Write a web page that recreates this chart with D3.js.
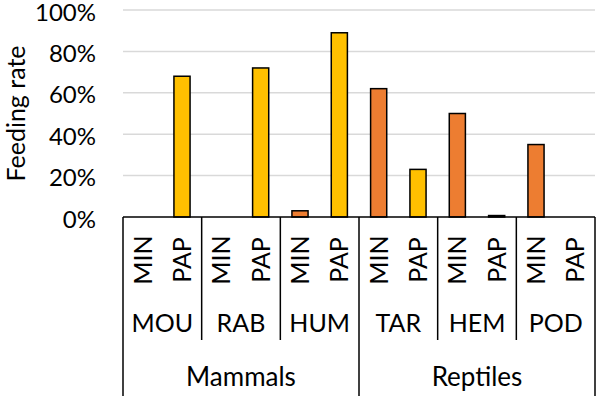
<!DOCTYPE html>
<html><head><meta charset="utf-8">
<script src="https://cdn.jsdelivr.net/npm/d3@7"></script>
<style>body{margin:0;background:#fff}svg{display:block}text{font-family:Lato,"Open Sans",sans-serif;fill:#000}</style>
</head><body>
<svg id="c" width="598" height="396"></svg>
<script>
const groups = ["Mammals", "Reptiles"];
const species = ["MOU", "RAB", "HUM", "TAR", "HEM", "POD"];
const speciesGroup = ["Mammals", "Mammals", "Mammals", "Reptiles", "Reptiles", "Reptiles"];
const treatments = ["MIN", "PAP"];
const minValues = [0, 0, 0.03, 0.62, 0.50, 0.35];
const papValues = [0.68, 0.72, 0.89, 0.23, 0.007, 0];
const yTicks = [0, 0.2, 0.4, 0.6, 0.8, 1.0];
const colors = {MIN: "#ED7D31", PAP: "#FFC000"};

const svg = d3.select("#c");
const pLeft = 123, pRight = 595, pTop = 10, pBase = 217, H = 396;

const keys = [];
species.forEach((s, i) => treatments.forEach(t => keys.push({s, t, i, v: t === "MIN" ? minValues[i] : papValues[i]})));

const x = d3.scaleBand().domain(keys.map(d => d.s + "-" + d.t)).range([pLeft, pRight]).paddingInner(0.59).paddingOuter(0.295);
const xc = d3.scaleBand().domain(keys.map(d => d.s + "-" + d.t)).range([pLeft, pRight]);
const xs = d3.scaleBand().domain(species).range([pLeft, pRight]);
const xg = d3.scaleBand().domain(groups).range([pLeft, pRight]);
const y = d3.scaleLinear().domain([0, 1]).range([pBase, pTop]);

// gridlines
svg.append("g").selectAll("line").data(yTicks.slice(1)).join("line")
  .attr("x1", pLeft).attr("x2", pRight).attr("y1", d => y(d)).attr("y2", d => y(d))
  .attr("stroke", "#d9d9d9").attr("stroke-width", 1.5);

// y tick labels
svg.append("g").selectAll("text").data(yTicks).join("text")
  .attr("x", 96).attr("y", d => y(d) + 1).attr("text-anchor", "end").attr("dominant-baseline", "central")
  .style("font-size", "24px").text(d => d3.format(".0%")(d));

svg.append("text").attr("transform", `translate(25,${(pTop + pBase) / 2}) rotate(-90)`)
  .attr("text-anchor", "middle").style("font-size", "25px").text("Feeding rate");

// bars
svg.append("g").selectAll("rect").data(keys.filter(d => d.v > 0)).join("rect")
  .attr("x", d => x(d.s + "-" + d.t)).attr("width", x.bandwidth())
  .attr("y", d => y(d.v)).attr("height", d => y(0) - y(d.v))
  .attr("fill", d => colors[d.t]).attr("stroke", "#000").attr("stroke-width", 1.5);

// axis lines
const ax = svg.append("g").attr("stroke", "#000").attr("stroke-width", 1.5);
ax.append("line").attr("x1", pLeft).attr("x2", pRight).attr("y1", pBase).attr("y2", pBase);
const gb = [pLeft, ...groups.map(g => xg(g) + xg.bandwidth())];
ax.selectAll(".gl").data(gb).join("line").attr("class", "gl")
  .attr("x1", d => d).attr("x2", d => d).attr("y1", pBase).attr("y2", H);
const sb = species.map(s => xs(s) + xs.bandwidth()).filter(v => !gb.some(g => Math.abs(g - v) < 1));
ax.selectAll(".sl").data(sb).join("line").attr("class", "sl")
  .attr("x1", d => d).attr("x2", d => d).attr("y1", pBase).attr("y2", 340);

// treatment labels
svg.append("g").selectAll("text").data(keys).join("text")
  .attr("transform", d => `translate(${xc(d.s + "-" + d.t) + xc.bandwidth() / 2 + 9},260) rotate(-90)`)
  .attr("text-anchor", "middle").style("font-size", "25px").text(d => d.t);

// species labels
svg.append("g").selectAll("text").data(species).join("text")
  .attr("x", d => xs(d) + xs.bandwidth() / 2).attr("y", 332).attr("text-anchor", "middle")
  .style("font-size", "25px").text(d => d);

// group labels
svg.append("g").selectAll("text").data(groups).join("text")
  .attr("x", d => xg(d) + xg.bandwidth() / 2).attr("y", 386).attr("text-anchor", "middle")
  .style("font-size", "26px").text(d => d);
</script>
</body></html>
